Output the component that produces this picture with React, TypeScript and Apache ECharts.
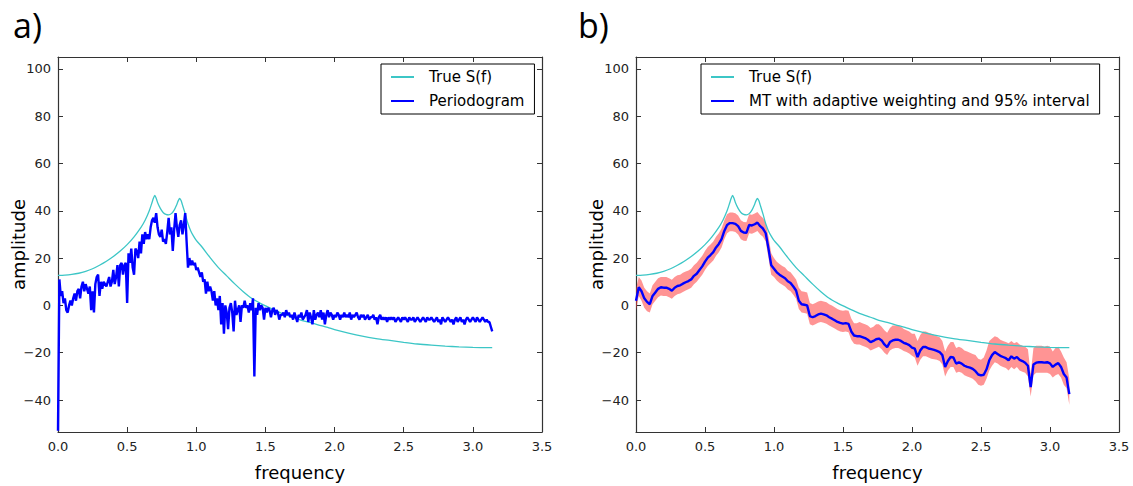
import React, { useEffect, useRef } from "react";
import * as echarts from "echarts";

// True spectrum S(f)
const trueFreq = [0, 0.05, 0.1, 0.15, 0.2, 0.25, 0.3, 0.35, 0.4, 0.45, 0.5, 0.55, 0.6, 0.63, 0.66, 0.68, 0.69, 0.7, 0.71, 0.72, 0.74, 0.76, 0.78, 0.8, 0.82, 0.84, 0.86, 0.87, 0.88, 0.89, 0.9, 0.92, 0.94, 0.96, 0.98, 1.0, 1.04, 1.1, 1.16, 1.22, 1.28, 1.34, 1.4, 1.46, 1.52, 1.58, 1.64, 1.7, 1.76, 1.82, 1.88, 1.95, 2.0, 2.1, 2.2, 2.3, 2.4, 2.5, 2.6, 2.7, 2.8, 2.9, 3.0, 3.1, 3.14];
const trueVal = [12.7, 12.8, 13.1, 13.6, 14.4, 15.5, 17.0, 18.7, 20.7, 23.0, 25.7, 29, 33, 36, 40, 43.5, 45.3, 46.5, 45.3, 43.5, 41, 39.3, 38.5, 38.3, 38.8, 40.3, 42.8, 44.3, 45.2, 44.3, 42.5, 38.7, 34.5, 31.5, 29.3, 27.5, 24.8, 20.2, 16, 12.5, 9, 5.8, 3, 1, -0.7, -2.3, -3.8, -5, -6.3, -7.2, -8.2, -9.3, -10.2, -11.7, -13, -14, -14.8, -15.6, -16.3, -16.8, -17.2, -17.5, -17.7, -17.8, -17.8];

// Periodogram, frequency step 0.01 from 0 to 3.14
const periodogram = [
  -53, 11, 4, 6, 1, 3, -2, -3, 0, 2,
  0, 3, 5, 2, 6, 7, 3, 8, 10, 6,
  9, 7, 5, 8, -2, 6, -3, 9, 12, 13,
  4, 10, 7, 10, 9, 8, 10, 12, 8, 10,
  15, 9, 12, 17, 8, 17, 18, 13, 17, 18,
  1, 22, 18, 24, 16, 13, 24, 23, 20, 27,
  22, 30, 26, 31, 28, 30, 28, 33, 36, 37,
  35, 39, 33, 30, 29, 32, 27, 28, 26, 31,
  37, 30, 33, 23, 32, 39, 33, 29, 34, 36,
  30, 34, 39, 27, 16, 20, 17, 19, 17, 18,
  15, 16, 14, 12, 14, 10, 11, 5, 10, 6,
  8, 6, 2, 6, 0, 3, -2, 4, -8, 1,
  -12, 0, -3, -10, -1, 1, -3, -11, 2, -4,
  -2, 0, -7, 0, -1, 2, -1, 0, -3, 1,
  -2, 3, -30, -1, -4, 1, -2, 0, -1, -6,
  -1, -3, -1, -2, -5, -2, -1, -4, -2, -3,
  -6, -4, -4, -3, -5, -2, -4, -3, -5, -4,
  -6, -3, -5, -7, -4, -5, -3, -6, -5, -4,
  -2, -7, -3, -5, -8, -2, -6, -4, -3, -5,
  -2, -6, -3, -8, -4, -2, -5, -3, -4, -6,
  -4, -5, -3, -4, -6, -4, -5, -3, -5, -4,
  -5, -3, -6, -4, -5, -4, -3, -5, -6, -4,
  -5, -4, -6, -5, -4, -6, -5, -5, -4, -6,
  -5, -8, -5, -4, -6, -5, -6, -5, -7, -5,
  -6, -5, -6, -5, -7, -6, -5, -6, -7, -5,
  -6, -5, -6, -7, -5, -6, -6, -5, -7, -6,
  -5, -6, -7, -6, -5, -6, -7, -5, -6, -6,
  -5, -6, -7, -6, -5, -7, -6, -8, -5, -6,
  -7, -6, -5, -6, -7, -6, -8, -6, -5, -7,
  -6, -5, -7, -6, -8, -6, -5, -6, -7, -6,
  -5, -6, -7, -5, -6, -7, -6, -5, -6, -7,
  -6, -7, -7, -9, -11,
];

// Multitaper estimate, frequency step 0.02 from 0 to 3.14
const mtEstimate = [
  2, 7.7, 6, 3, 1.5, 0.5, 4, 5.5, 7, 7.7,
  7.5, 7.5, 7, 6.2, 7.5, 8.2, 8.5, 9.2, 9.8, 10.3,
  11, 12.5, 13.4, 15, 16.5, 18.5, 20.2, 21.3, 22.5, 24.5,
  26, 28, 31.5, 34, 34.8, 34.8, 34.5, 33.5, 31.5, 30.8,
  30.7, 34, 33.8, 34.3, 35, 33.5, 32.5, 30.5, 24, 17,
  15.5, 14, 13, 12.2, 11.5, 10.2, 9.5, 8, 6.3, 2,
  0.5, 0.3, 0, -4.5, -5, -4.5, -3.8, -3.5, -3.8, -4.2,
  -5, -5.6, -6.3, -7, -7.4, -7.7, -7.5, -7.8, -11, -12.7,
  -13, -13, -13.4, -13.8, -14.5, -15.5, -15, -14.3, -14, -14.8,
  -16.5, -17.6, -15.5, -14.8, -14.5, -14.5, -15, -15.8, -16.2, -16.8,
  -17.8, -18.3, -21.8, -19, -17.6, -17.6, -18.2, -18.5, -18.8, -19.2,
  -19.7, -21, -26, -23.5, -21.8, -22, -24.6, -24, -24.6, -25.5,
  -26, -26.3, -26.8, -27.8, -29.2, -29.6, -29.3, -27, -23.2, -21,
  -19.7, -20.5, -21.3, -21.8, -22.3, -23.2, -21.5, -22.5, -21.8, -23,
  -23.5, -24.2, -25.5, -34.5, -25, -24.2, -24, -24, -24.2, -24,
  -24.5, -26, -25, -24.4, -26, -29, -30.5, -37.5,
];

const ciUpper = [
  7, 12, 10.5, 7.5, 6, 5, 8.5, 10, 11.5, 12,
  12, 12, 11.5, 10.8, 12, 12.8, 13, 13.8, 14.3, 14.8,
  15.5, 17, 18, 19.5, 21, 23, 24.7, 25.8, 27, 29,
  30.5, 32.5, 36, 38.5, 39.3, 39.3, 39, 38, 36, 35.3,
  35.2, 38.5, 38.3, 38.8, 39.5, 38, 37, 35, 29, 22,
  20, 18.5, 17.5, 16.7, 16, 14.7, 14, 12.5, 11, 7.5,
  6, 5.8, 5.5, 1, 0.5, 1, 1.7, 2, 1.7, 1.3,
  0.5, 0, -0.8, -1.5, -2, -2.2, -2, -2.3, -5.5, -7.5,
  -7.5, -7, -7.5, -8, -8.5, -9.5, -9, -8, -8, -9,
  -10.5, -11.5, -9.5, -8.5, -8.5, -8.5, -9, -10, -10.5, -11,
  -12, -12, -15, -12.5, -11, -11, -11.5, -12, -12.5, -13,
  -13.5, -15, -19.5, -17, -15.5, -15.5, -18, -17.5, -18, -19,
  -19.5, -20, -20.5, -21, -22.5, -23, -22, -19, -15, -14,
  -13, -13.5, -14.5, -15, -15.5, -16, -15, -16, -15.5, -16.5,
  -17, -17.5, -18.5, -29, -18, -17, -17, -17, -17.5, -17,
  -17.5, -19.5, -18, -17.5, -19.5, -22, -24, -31,
];

const ciLower = [
  -2, 4, 2, -1, -2.5, -3, 0.5, 2, 3.5, 4.2,
  4, 4, 3.5, 2.8, 4, 4.7, 5, 5.7, 6.3, 6.8,
  7.5, 9, 10, 11.5, 13, 15, 16.7, 17.8, 19, 21,
  22.5, 24.5, 28, 30.5, 31.3, 31.3, 31, 30, 28, 27.3,
  27.2, 30.5, 30.3, 30.8, 31.5, 30, 29, 27, 20, 13,
  12, 10.5, 9.5, 8.7, 8, 6.7, 6, 4.5, 2.8, -1.5,
  -3, -3.2, -3.5, -8, -8.5, -8, -7.3, -7, -7.3, -7.7,
  -8.5, -9.1, -9.8, -10.5, -11, -11.2, -11, -11.3, -14.5, -16.2,
  -16.5, -16.5, -17, -17.5, -18, -19, -18.5, -18, -17.5, -18.5,
  -20, -21, -19, -18.3, -18, -18, -18.5, -19.3, -19.7, -20.3,
  -21.3, -22, -25.5, -23, -21.5, -21.5, -22, -22.5, -22.8, -23,
  -23.5, -25, -30, -27.5, -26, -26, -28.5, -28, -28.5, -29.5,
  -30, -30.5, -31, -32, -33.5, -34, -33.5, -31, -27.5, -25.5,
  -24, -24.5, -25.5, -26, -26.5, -27.5, -26, -27, -26, -27.5,
  -28, -28.5, -30, -38.5, -29.5, -28.5, -28.5, -28.5, -28.5, -28.5,
  -29, -30.5, -29.5, -29, -30.5, -33.5, -35, -42,
];

const yTicks = [-40, -20, 0, 20, 40, 60, 80, 100];
const panelLabels = ["a)", "b)"];
const legendA = ["True S(f)", "Periodogram"];
const legendB = ["True S(f)", "MT with adaptive weighting and 95% interval"];

const pFreq = periodogram.map((_, i) => i / 100);
const mtFreq = mtEstimate.map((_, i) => (i * 2) / 100);

const FONT = "DejaVu Sans";
const AXIS_COLOR = "#333";
const CYAN = "#3cc6c6";
const BLUE = "#0000ff";

function fmtMinus(v: number, digits: number) {
  const s = v.toFixed(digits);
  return s.replace("-", "\u2212");
}

export default function App() {
  const ref = useRef<HTMLDivElement>(null);
  useEffect(() => {
    if (!ref.current) return;
    const chart = echarts.init(ref.current, null, { renderer: "svg" });

    const grids = [
      { left: 58, top: 57, width: 484, height: 375 },
      { left: 636, top: 57, width: 483, height: 375 },
    ];

    const xAxes: any[] = [];
    const yAxes: any[] = [];
    for (let g = 0; g < 2; g++) {
      const base = {
        type: "value",
        gridIndex: g,
        min: 0,
        max: 3.5,
        interval: 0.5,
        splitLine: { show: false },
        axisLine: { show: true, onZero: false, lineStyle: { color: AXIS_COLOR, width: 1.2 } },
        axisTick: { show: true, inside: true, length: 5, lineStyle: { color: AXIS_COLOR } },
      };
      xAxes.push({
        ...base,
        position: "bottom",
        name: "frequency",
        nameLocation: "middle",
        nameGap: 31,
        nameMoveOverlap: false,
        nameTextStyle: { fontFamily: FONT, fontSize: 18, color: "#000" },
        axisLabel: {
          show: true,
          margin: 8,
          fontFamily: FONT,
          fontSize: 13,
          color: "#222",
          formatter: (v: number) => v.toFixed(1),
        },
      });
      xAxes.push({ ...base, position: "top", axisLabel: { show: false } });

      const ybase = {
        type: "value",
        gridIndex: g,
        min: -53.5,
        max: 105,
        splitLine: { show: false },
        axisLine: { show: true, onZero: false, lineStyle: { color: AXIS_COLOR, width: 1.2 } },
        axisTick: {
          show: true,
          inside: true,
          length: 5,
          customValues: yTicks,
          lineStyle: { color: AXIS_COLOR },
        },
      };
      yAxes.push({
        ...ybase,
        position: "left",
        name: "amplitude",
        nameLocation: "middle",
        nameGap: 31,
        nameMoveOverlap: false,
        nameRotate: 90,
        nameTextStyle: { fontFamily: FONT, fontSize: 18, color: "#000" },
        axisLabel: {
          show: true,
          margin: 7,
          fontFamily: FONT,
          fontSize: 13,
          color: "#222",
          customValues: yTicks,
          formatter: (v: number) => fmtMinus(v, 0),
        },
      });
      yAxes.push({ ...ybase, position: "right", axisLabel: { show: false } });
    }

    const trueData = trueFreq.map((f, i) => [f, trueVal[i]]);

    const legendCommon = {
      orient: "vertical",
      top: 64,
      padding: [5, 10, 5, 10],
      itemGap: 8,
      itemWidth: 23,
      itemHeight: 2,
      icon: "rect",
      borderColor: "#000",
      borderWidth: 1,
      backgroundColor: "#fff",
      selectedMode: false,
      textStyle: {
        fontFamily: FONT,
        fontSize: 15,
        color: "#000",
        padding: [0, 0, 0, 10],
        lineHeight: 16,
      },
    };

    const titleStyle = { fontFamily: "Open Sans", fontSize: 34, fontWeight: "normal", color: "#000" };

    chart.setOption({
      animation: false,
      backgroundColor: "#fff",
      title: [
        { text: panelLabels[0], left: 8, top: 3, textStyle: titleStyle },
        { text: panelLabels[1], left: 573, top: 3, textStyle: titleStyle },
      ],
      grid: grids,
      xAxis: xAxes,
      yAxis: yAxes,
      legend: [
        { ...legendCommon, left: 381, data: legendA },
        { ...legendCommon, left: 701, data: legendB },
      ],
      series: [
        {
          type: "line",
          name: "True S(f)",
          xAxisIndex: 0,
          yAxisIndex: 0,
          data: trueData,
          symbol: "none",
          smooth: 0.3,
          lineStyle: { color: CYAN, width: 1.3 },
          itemStyle: { color: CYAN },
          z: 2,
        },
        {
          type: "line",
          name: "Periodogram",
          xAxisIndex: 0,
          yAxisIndex: 0,
          data: pFreq.map((f, i) => [f, periodogram[i]]),
          symbol: "none",
          lineStyle: { color: BLUE, width: 2.4 },
          itemStyle: { color: BLUE },
          z: 3,
        },
        {
          type: "custom",
          name: "95% interval",
          xAxisIndex: 2,
          yAxisIndex: 2,
          data: [[0, 0]],
          clip: true,
          silent: true,
          z: 1,
          renderItem: (_params: any, api: any) => {
            const pts: number[][] = [];
            for (let i = 0; i < mtFreq.length; i++) pts.push(api.coord([mtFreq[i], ciUpper[i]]));
            for (let i = mtFreq.length - 1; i >= 0; i--) pts.push(api.coord([mtFreq[i], ciLower[i]]));
            return {
              type: "polygon",
              shape: { points: pts },
              style: { fill: "rgba(255, 60, 60, 0.55)", stroke: "none" },
            };
          },
        },
        {
          type: "line",
          name: "True S(f)",
          xAxisIndex: 2,
          yAxisIndex: 2,
          data: trueData,
          symbol: "none",
          smooth: 0.3,
          lineStyle: { color: CYAN, width: 1.3 },
          itemStyle: { color: CYAN },
          z: 2,
        },
        {
          type: "line",
          name: "MT with adaptive weighting and 95% interval",
          xAxisIndex: 2,
          yAxisIndex: 2,
          data: mtFreq.map((f, i) => [f, mtEstimate[i]]),
          symbol: "none",
          lineStyle: { color: BLUE, width: 2.4 },
          itemStyle: { color: BLUE },
          z: 3,
        },
      ],
    });

    return () => chart.dispose();
  }, []);

  return (
    <div
      ref={ref}
      style={{ position: "fixed", left: 0, top: 0, width: 1133, height: 486, background: "#fff" }}
    />
  );
}
